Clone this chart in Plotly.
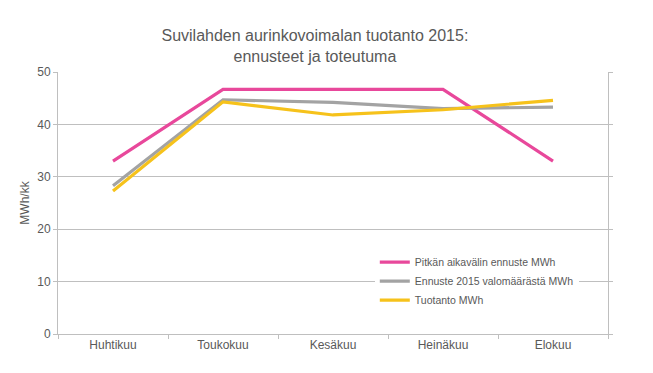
import plotly.graph_objects as go

months = ["Huhtikuu", "Toukokuu", "Kesäkuu", "Heinäkuu", "Elokuu"]
pitkan = [33.0, 46.7, 46.7, 46.7, 33.0]
ennuste2015 = [28.3, 44.7, 44.2, 43.0, 43.3]
tuotanto = [27.3, 44.3, 41.8, 42.8, 44.6]

names = ["Pitkän aikavälin ennuste MWh", "Ennuste 2015 valomäärästä MWh", "Tuotanto MWh"]
colors = ["#e8489b", "#a3a3a3", "#f6c21b"]
series = [pitkan, ennuste2015, tuotanto]

font_fam = "Liberation Sans, Arial, sans-serif"
txt = "#595959"

fig = go.Figure()
for n, c, s in zip(names, colors, series):
    fig.add_trace(go.Scatter(x=months, y=s, name=n, mode="lines",
                             line=dict(color=c, width=3.2)))

fig.update_layout(
    width=653, height=373,
    margin=dict(l=50, r=53, t=64, b=47),
    paper_bgcolor="white", plot_bgcolor="white",
    font=dict(family=font_fam, color=txt, size=12),
    title=dict(text="Suvilahden aurinkovoimalan tuotanto 2015:<br>ennusteet ja toteutuma",
               x=0.47, xanchor="center", xref="container",
               y=0.912, yanchor="top", yref="container",
               font=dict(size=16, color=txt, family=font_fam)),
    showlegend=True,
    legend=dict(x=0.576, xanchor="left", y=0.33, yanchor="top",
                bgcolor="white", font=dict(size=10.5, color=txt, family=font_fam),
                itemwidth=30, tracegroupgap=0),
    xaxis=dict(type="category", tickson="boundaries", ticks="outside", ticklen=4,
               range=[-0.5, 4.5],
               tickcolor="#bfbfbf", showline=True, linecolor="#bfbfbf", linewidth=1,
               showgrid=False, tickfont=dict(size=12, color=txt)),
    yaxis=dict(range=[0, 50], dtick=10, ticks="outside", ticklen=4, tickcolor="#bfbfbf",
               showline=True, linecolor="#bfbfbf", linewidth=1, mirror="allticks",
               showgrid=True, gridcolor="#bfbfbf", gridwidth=1, zeroline=False,
               tickfont=dict(size=12, color=txt),
               title=dict(text="MWh/kk", font=dict(size=12, color=txt), standoff=5)),
)

fig.write_html("out.html")
